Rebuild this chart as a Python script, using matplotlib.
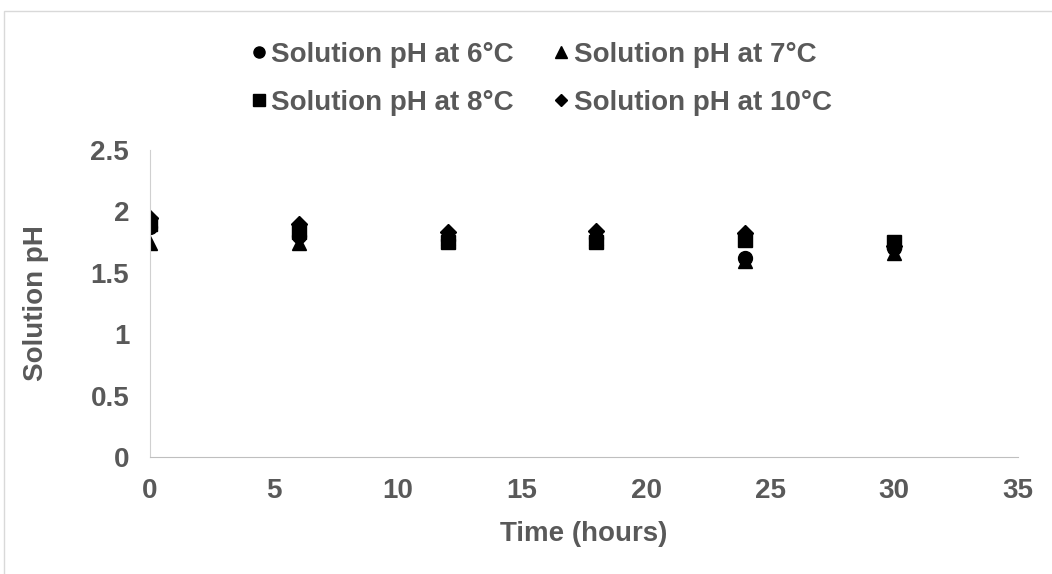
import matplotlib.pyplot as plt
from matplotlib.patches import Rectangle

plt.rcParams['font.family'] = ['Liberation Sans', 'DejaVu Sans']

time_h = [0, 6, 12, 18, 24, 30]
ph_6c = [1.87, 1.80, 1.77, 1.78, 1.62, 1.70]
ph_7c = [1.74, 1.74, 1.78, 1.78, 1.60, 1.66]
ph_8c = [1.90, 1.83, 1.75, 1.75, 1.77, 1.75]
ph_10c = [1.95, 1.90, 1.83, 1.84, 1.82, 1.72]

series = [
    ("Solution pH at 6°C", ph_6c, "o", 10),
    ("Solution pH at 7°C", ph_7c, "^", 10),
    ("Solution pH at 8°C", ph_8c, "s", 10),
    ("Solution pH at 10°C", ph_10c, "D", 8),
]

grey = "#595959"
fs = 20
fig = plt.figure(figsize=(10.52, 5.74), dpi=100)
ax = fig.add_axes([0.1426, 0.2038, 0.8251, 0.5349])

handles = []
for label, vals, mk, ms in series:
    h, = ax.plot(time_h, vals, linestyle="none", marker=mk, markersize=ms,
                 color="black", label=label)
    handles.append(h)

ax.set_xlim(0, 35)
ax.set_ylim(0, 2.5)
ax.set_xticks(range(0, 36, 5))
ax.set_yticks([0, 0.5, 1, 1.5, 2, 2.5])
ax.set_yticklabels(["0", "0.5", "1", "1.5", "2", "2.5"])
ax.tick_params(length=0, pad=15, labelsize=fs, labelcolor=grey)
for t in ax.get_xticklabels() + ax.get_yticklabels():
    t.set_fontweight("bold")

for s in ["top", "right"]:
    ax.spines[s].set_visible(False)
ax.spines["left"].set_color("#d0d0d0")
ax.spines["bottom"].set_color("#bfbfbf")

ax.set_xlabel("Time (hours)", fontsize=fs, fontweight="bold", color=grey, labelpad=12)
ax.set_ylabel("Solution pH", fontsize=fs, fontweight="bold", color=grey, labelpad=30)

# row-wise order: 6, 7 / 8, 10
order = [0, 2, 1, 3]
leg = fig.legend([handles[i] for i in order], [series[i][0] for i in order],
                 loc="upper center", bbox_to_anchor=(0.513, 0.97), ncol=2,
                 frameon=False, fontsize=fs, handletextpad=0.05,
                 columnspacing=1.3, labelspacing=0.78, handlelength=0.8,
                 markerscale=0.8)
for t in leg.get_texts():
    t.set_color(grey)
    t.set_fontweight("bold")

fig.patches.append(Rectangle((4 / 1052, -0.1), 1.2, 1 - 11 / 574 + 0.1,
                             transform=fig.transFigure, fill=False,
                             edgecolor="#d9d9d9", linewidth=1))

fig.savefig("out.png", dpi=100)
